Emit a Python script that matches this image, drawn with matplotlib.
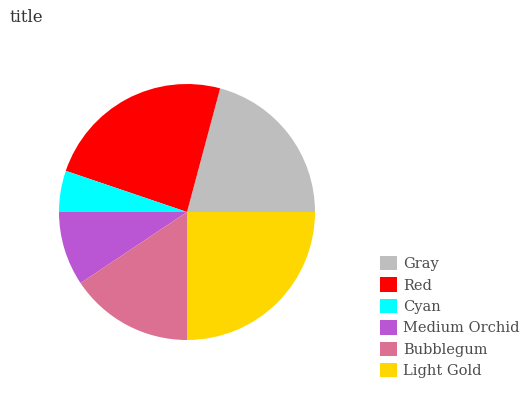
import matplotlib
matplotlib.use("Agg")
import matplotlib.pyplot as plt
from matplotlib.patches import Patch

labels = ["Gray", "Red", "Cyan", "Medium Orchid", "Bubblegum", "Light Gold"]
values = [20, 23, 5, 9, 15, 24]
colors = ["#bebebe", "#ff0000", "#00ffff", "#ba55d3", "#db7093", "#ffd700"]

plt.rcParams['font.family'] = ['DejaVu Serif']
fig = plt.figure(figsize=(5.32, 4.0), dpi=100)
ax = fig.add_axes([(187 - 128) / 532, (400 - 212 - 128) / 400, 256 / 532, 256 / 400])
ax.pie(values, colors=colors, startangle=0, counterclock=True,
       wedgeprops=dict(linewidth=0))
ax.set_xlim(-1, 1)
ax.set_ylim(-1, 1)
ax.set_aspect('equal')
ax.axis('off')

handles = [Patch(facecolor=c, edgecolor='none') for c in colors]
fig.legend(handles, labels, loc='upper left', bbox_to_anchor=(380 / 532, 1 - 256 / 400),
           frameon=False, fontsize=10.5, labelcolor='#4d4d4d', borderpad=0, borderaxespad=0,
           handlelength=1.14, handleheight=1.14, handletextpad=0.43, labelspacing=0.43)
fig.text(10 / 532, 1 - 18 / 400, "title", fontsize=12, color='#333333', va='center', ha='left')
fig.savefig("out.png", dpi=100)
